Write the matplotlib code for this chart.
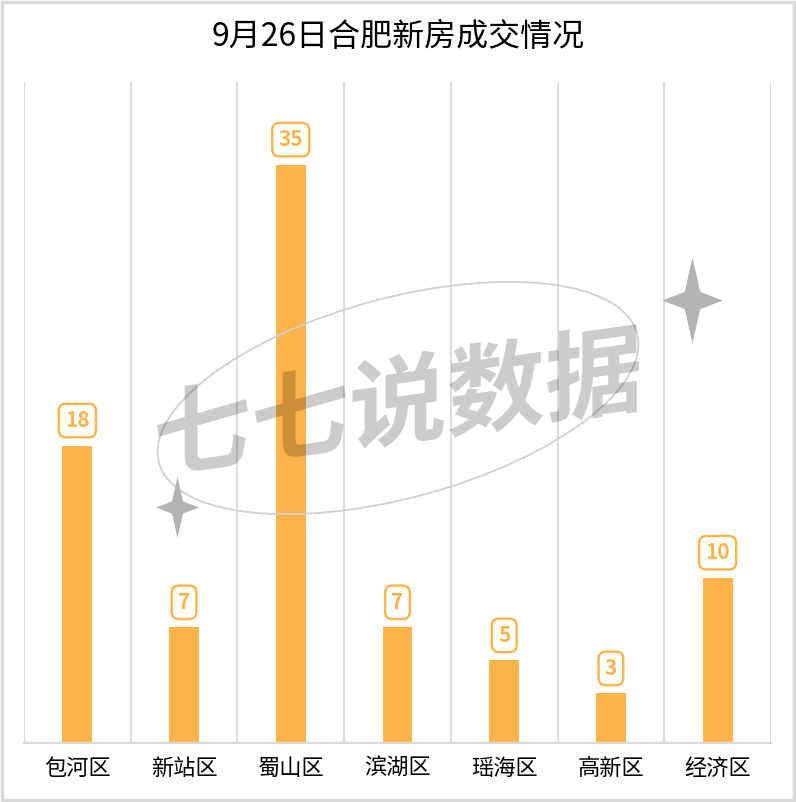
import matplotlib.pyplot as plt
from matplotlib.patches import Ellipse, Rectangle, PathPatch
from matplotlib.path import Path
from matplotlib.textpath import TextPath
from matplotlib.font_manager import FontProperties
from matplotlib.transforms import Affine2D, IdentityTransform
import numpy as np

plt.rcParams['font.family'] = ['Noto Sans CJK SC', 'DejaVu Sans']

districts = ['包河区', '新站区', '蜀山区', '滨湖区', '瑶海区', '高新区', '经济区']
deals = [18, 7, 35, 7, 5, 3, 10]
title = '9月26日合肥新房成交情况'

bar_color = '#FDB347'
grid_color = '#D9D9D9'

fig = plt.figure(figsize=(7.96, 8.02), dpi=100)
ax = fig.add_axes([24 / 796, 59 / 802, 747 / 796, 661 / 802])

x = np.arange(len(districts))
bars = ax.bar(x, deals, width=0.28, color=bar_color, zorder=2)

for rect, v in zip(bars, deals):
    ax.annotate(str(v), (rect.get_x() + rect.get_width() / 2, rect.get_height()),
                xytext=(0, 18), textcoords='offset points', ha='center', va='center',
                fontsize=15, color=bar_color, fontweight='bold', zorder=5,
                bbox=dict(boxstyle='round,pad=0.3,rounding_size=0.35', fc='white',
                          ec=bar_color, lw=1.7))

ax.set_xlim(-0.5, len(districts) - 0.5)
ax.set_ylim(0, 40)
ax.set_xticks(x, districts, fontsize=16)
ax.set_xticks(np.arange(-0.5, len(districts)), minor=True)
ax.tick_params(axis='x', which='both', length=0, pad=10)
ax.set_yticks([])
ax.grid(axis='x', which='minor', color=grid_color, lw=1.3, zorder=0)
for s in ['top', 'left', 'right']:
    ax.spines[s].set_visible(False)
ax.spines['bottom'].set_color(grid_color)
ax.spines['bottom'].set_linewidth(1.6)

fig.text(0.5, 1 - 37 / 802, title, ha='center', va='center', fontsize=23)

# watermark
fig.patches.append(Ellipse((398 / 796, 1 - 398 / 802), 495 / 796, 200 / 802, angle=15,
                           transform=fig.transFigure, fill=False, ec='#D0D0D0', lw=1.3))

tp = TextPath((0, 0), '七七说数据', size=98,
              prop=FontProperties(family='Noto Sans CJK SC', weight='black'))
b = tp.get_extents()
cx, cy = 398, 802 - 400
tr = (Affine2D().translate(-(b.x0 + b.x1) / 2, -(b.y0 + b.y1) / 2)
      .skew_deg(0, 8).translate(cx, cy))
fig.patches.append(PathPatch(tr.transform_path(tp), transform=IdentityTransform(),
                             fc='black', ec='none', alpha=0.2, zorder=10))

star = Path([(0, 1), (0.18, 0.2), (0.7, 0), (0.18, -0.2), (0, -1), (-0.18, -0.2),
             (-0.7, 0), (-0.18, 0.2), (0, 1)])
for sx, sy, ms in [(692, 300, 62), (177, 507, 44)]:
    fig.add_artist(plt.Line2D([sx / 796], [1 - sy / 802], transform=fig.transFigure,
                              ls='none', marker=star, markersize=ms,
                              color='#B3B3B3', mec='none'))

fig.patches.append(Rectangle((0.002, 0.002), 0.996, 0.996, transform=fig.transFigure,
                             fill=False, ec=grid_color, lw=2.5))

fig.savefig('out.png', dpi=100)
